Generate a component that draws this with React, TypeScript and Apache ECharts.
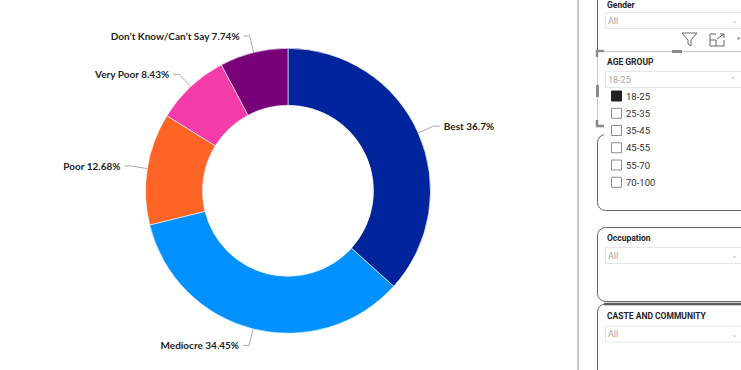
import React, { useEffect, useRef } from "react";
import * as echarts from "echarts";

const categories = ["Best", "Mediocre", "Poor", "Very Poor", "Don\u2019t Know/Can\u2019t Say"];
const values = [36.7, 34.45, 12.68, 8.43, 7.74];
const colors = ["#00249C", "#0091FF", "#FF6427", "#F43BAA", "#780078"];
const ageGroups = ["18-25", "25-35", "35-45", "45-55", "55-70", "70-100"];

const FONT = "Lato, 'Open Sans', 'DejaVu Sans', sans-serif";
const PFONT = "Roboto, 'DejaVu Sans', sans-serif";

export default function App() {
  const ref = useRef<HTMLDivElement>(null);
  useEffect(() => {
    document.body.style.margin = "0";
    const chart = echarts.init(ref.current!, null, { renderer: "svg" });

    const g: any[] = [];
    const hdr = (t: string, y: number) => ({
      type: "text", x: 607, y, style: { text: t, font: `bold 8.5px ${PFONT}`, fill: "#252423", verticalAlign: "middle" },
    });
    const dd = (t: string, y: number, chev: string) => [
      { type: "rect", shape: { x: 605.5, y: y - 8, width: 150, height: 16 }, style: { fill: "#fff", stroke: "#e8e8e8", lineWidth: 1 } },
      { type: "text", x: 608, y, style: { text: t, font: `9px ${PFONT}`, fill: "#a6a6a6", verticalAlign: "middle" } },
      { type: "text", x: 731, y, style: { text: chev, font: `8px ${PFONT}`, fill: "#c0c0c0", verticalAlign: "middle" } },
    ];

    // vertical separator
    g.push({ type: "rect", shape: { x: 577, y: 0, width: 2, height: 370 }, style: { fill: "#c6c6c6" } });
    // gender box left border
    g.push({ type: "line", shape: { x1: 597.5, y1: 0, x2: 597.5, y2: 50 }, style: { stroke: "#666", lineWidth: 1 } });
    g.push(hdr("Gender", 4.5));
    g.push(...dd("All", 20.5, "\u2304"));
    // filter icon
    g.push({ type: "polygon", shape: { points: [[682, 33], [697, 33], [691, 40], [691, 46], [688, 44], [688, 40]] }, style: { fill: "none", stroke: "#666", lineWidth: 1 } });
    // expand icon
    g.push({ type: "polyline", shape: { points: [[716, 34], [710, 34], [710, 46], [724, 46], [724, 40]] }, style: { fill: "none", stroke: "#666", lineWidth: 1 } });
    g.push({ type: "polyline", shape: { points: [[710, 40], [716, 40], [716, 46]] }, style: { fill: "none", stroke: "#666", lineWidth: 1 } });
    g.push({ type: "line", shape: { x1: 717, y1: 39, x2: 724, y2: 34 }, style: { stroke: "#666", lineWidth: 1 } });
    g.push({ type: "polyline", shape: { points: [[720, 34], [724, 34], [724, 38]] }, style: { fill: "none", stroke: "#666", lineWidth: 1 } });
    g.push({ type: "circle", shape: { cx: 738.5, cy: 38.5, r: 1 }, style: { fill: "#666" } });

    // rounded box behind age group
    g.push({ type: "rect", shape: { x: 597.5, y: 134.5, width: 170, height: 76, r: 8 }, style: { fill: "none", stroke: "#666", lineWidth: 1 } });
    g.push({ type: "rect", shape: { x: 604, y: 130, width: 140, height: 8 }, style: { fill: "#fff" } });

    // selected age group visual
    g.push({ type: "line", shape: { x1: 597, y1: 51.5, x2: 741, y2: 51.5 }, style: { stroke: "#c8c8c8", lineWidth: 1 } });
    g.push({ type: "line", shape: { x1: 597.5, y1: 51, x2: 597.5, y2: 126 }, style: { stroke: "#c8c8c8", lineWidth: 1 } });
    g.push({ type: "polyline", shape: { points: [[597, 57], [597, 51], [604, 51]] }, style: { fill: "none", stroke: "#8a8a8a", lineWidth: 2.5 } });
    g.push({ type: "rect", shape: { x: 672, y: 50, width: 10, height: 3 }, style: { fill: "#8a8a8a" } });
    g.push({ type: "rect", shape: { x: 596, y: 85, width: 3, height: 12 }, style: { fill: "#8a8a8a" } });
    g.push({ type: "polyline", shape: { points: [[597, 120], [597, 126], [604, 126]] }, style: { fill: "none", stroke: "#8a8a8a", lineWidth: 2.5 } });
    g.push(hdr("AGE GROUP", 62));
    g.push(...dd("18-25", 79.5, "^"));
    ageGroups.forEach((a, i) => {
      const cy = 96 + i * 17.25;
      g.push({ type: "rect", shape: { x: 611.5, y: cy - 5, width: 10, height: 10 }, style: { fill: i === 0 ? "#222" : "#fff", stroke: i === 0 ? "#222" : "#8c8c8c", lineWidth: 1 } });
      g.push({ type: "text", x: 626, y: cy, style: { text: a, font: `9.5px ${PFONT}`, fill: "#333", verticalAlign: "middle" } });
    });

    // occupation box
    g.push({ type: "rect", shape: { x: 597.5, y: 227.5, width: 170, height: 74, r: 8 }, style: { fill: "none", stroke: "#666", lineWidth: 1 } });
    g.push(hdr("Occupation", 238));
    g.push(...dd("All", 255.5, "\u2304"));

    // caste box
    g.push({ type: "rect", shape: { x: 597.5, y: 304, width: 170, height: 80, r: 8 }, style: { fill: "none", stroke: "#666", lineWidth: 1 } });
    g.push({ type: "line", shape: { x1: 604, y1: 304, x2: 741, y2: 304 }, style: { stroke: "#5a5a5a", lineWidth: 2.5 } });
    g.push(hdr("CASTE AND COMMUNITY", 316));
    g.push(...dd("All", 334, "\u2304"));

    chart.setOption({
      animation: false,
      graphic: g,
      series: [
        {
          type: "pie",
          center: [288, 190.8],
          radius: [85.5, 142.5],
          startAngle: 90,
          clockwise: true,
          avoidLabelOverlap: false,
          itemStyle: { borderColor: "#ffffff", borderWidth: 0.6 },
          label: {
            show: true,
            position: "outside",
            formatter: (p: any) => `${p.name} ${p.value}%`,
            color: "#1f1f1f",
            fontFamily: FONT,
            fontWeight: 700,
            fontSize: 10,
            distanceToLabelLine: 4,
          },
          labelLine: { show: true, length: 17, length2: 6, smooth: false, lineStyle: { color: "#a8a8a8", width: 1 } },
          data: categories.map((c, i) => ({ name: c, value: values[i], itemStyle: { color: colors[i] } })),
        },
      ],
    });
    return () => chart.dispose();
  }, []);
  return <div ref={ref} style={{ width: 741, height: 370 }} />;
}
